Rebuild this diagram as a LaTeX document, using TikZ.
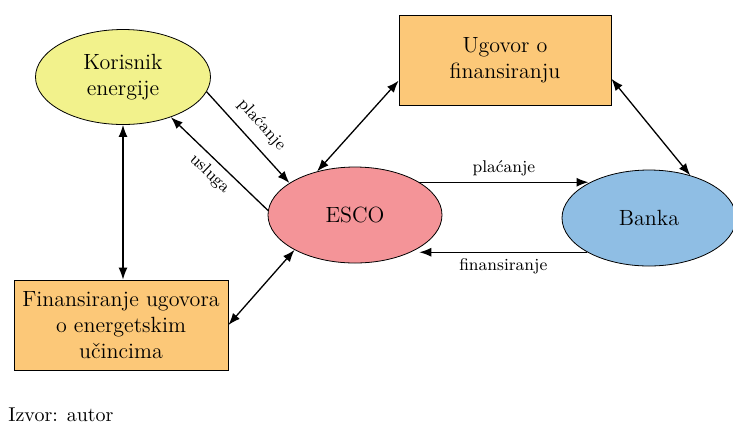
\documentclass[tikz,border=0pt]{standalone}
\usepackage{tikz}
\usetikzlibrary{shapes.geometric,arrows.meta,positioning}

\definecolor{korisnikfill}{RGB}{242,242,140}
\definecolor{escofill}{RGB}{244,148,152}
\definecolor{bankafill}{RGB}{143,190,228}
\definecolor{ugovorfill}{RGB}{252,200,120}

\tikzset{
  oval/.style = {draw, ellipse, inner sep = 0pt, minimum width = 87pt, minimum height = 48pt, align = center, font = \fontsize{11}{13}\selectfont},
  ugovorbox/.style = {draw, shape = rectangle, fill = ugovorfill, inner sep = 0pt, align = center, font = \fontsize{11}{13}\selectfont},
  tok/.style = {line width = 0.65pt, -{Latex[length=6pt,width=4.5pt]}},
  dvotok/.style = {line width = 0.65pt, {Latex[length=6pt,width=4.5pt]}-{Latex[length=6pt,width=4.5pt]}},
  oznaka/.style = {font = \fontsize{8.5}{10}\selectfont, inner sep = 1pt}
}

\begin{document}
\begin{tikzpicture}[x = 0.5pt, y = -0.5pt]
\useasboundingbox (0,0) rectangle (733,435);

\node[oval, fill = korisnikfill, minimum width = 87.5pt, minimum height = 47.5pt] (korisnik) at (123,77) {Korisnik\\energije};
\node[oval, fill = escofill] (esco) at (355,215) {ESCO};
\node[oval, fill = bankafill] (banka) at (649,218) {Banka};
\node[ugovorbox, minimum width = 106pt, minimum height = 45pt] (ugovor) at (505,60) {Ugovor o\\finansiranju};
\node[ugovorbox, minimum width = 107pt, minimum height = 45pt] (finansiranje) at (121,325) {Finansiranje ugovora\\o energetskim\\učincima};
\node[anchor = west, inner sep = 0pt, font = \fontsize{10}{12}\selectfont] (izvor) at (8,415) {Izvor: autor};

\draw[tok] (korisnik.-10) -- (esco.154) node[oznaka, midway, above = 4pt, sloped] {plaćanje};
\draw[tok] (esco.177) -- (korisnik.-40) node[oznaka, midway, below = 2pt, sloped] {usluga};
\draw[dvotok] (korisnik.south) -- (finansiranje.north -| korisnik.south);
\draw[dvotok] (finansiranje.east) -- (esco.210);
\draw[dvotok] (esco.131) -- (ugovor.191);
\draw[dvotok] (ugovor.-10) -- (banka.46);
\draw[tok] (esco.27) -- (esco.27 -| banka.150) node[oznaka, midway, above = 2pt] {plaćanje};
\draw[tok] (banka.209) -- (banka.209 -| esco.-27) node[oznaka, midway, below = 2pt] {finansiranje};
\end{tikzpicture}
\end{document}
